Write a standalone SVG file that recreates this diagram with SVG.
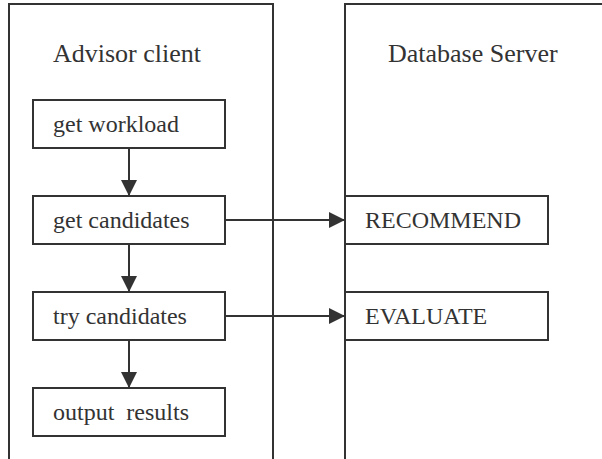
<svg xmlns="http://www.w3.org/2000/svg" width="602" height="459" viewBox="0 0 602 459">
<style>
.c{fill:none;stroke:#333;stroke-width:2}
.b{fill:#fff;stroke:#333;stroke-width:2}
.t{font-family:'Liberation Serif','DejaVu Serif',serif;font-size:24px;fill:#333;white-space:pre}
.h{font-family:'Liberation Serif','DejaVu Serif',serif;font-size:26px;fill:#333}
.l{fill:none;stroke:#333;stroke-width:2}
</style>
<defs>
<marker id="ah" markerUnits="userSpaceOnUse" markerWidth="16" markerHeight="16" refX="16" refY="8" orient="auto">
<path d="M0,0 L16,8 L0,16 Z" fill="#333"/>
</marker>
</defs>
<g id="advisor-client">
<path class="c" d="M9,470 V4 H273 V470"/>
<text class="h" x="53" y="62">Advisor client</text>
</g>
<g id="database-server">
<path class="c" d="M345,470 V4 H610"/>
<text class="h" x="388" y="62">Database Server</text>
</g>
<g id="get-workload">
<rect class="b" x="33" y="100" width="192" height="48"/>
<text class="t" x="53" y="132">get workload</text>
</g>
<g id="get-candidates">
<rect class="b" x="33" y="196" width="192" height="48"/>
<text class="t" x="53" y="228">get candidates</text>
</g>
<g id="try-candidates">
<rect class="b" x="33" y="292" width="192" height="48"/>
<text class="t" x="53" y="324">try candidates</text>
</g>
<g id="output-results">
<rect class="b" x="33" y="388" width="192" height="48"/>
<text class="t" x="53" y="420">output  results</text>
</g>
<g id="recommend">
<rect class="b" x="345" y="196" width="203" height="48"/>
<text class="t" x="365" y="228">RECOMMEND</text>
</g>
<g id="evaluate">
<rect class="b" x="345" y="292" width="203" height="48"/>
<text class="t" x="365" y="324">EVALUATE</text>
</g>
<g id="connectors">
<line class="l" x1="129" y1="148" x2="129" y2="196" marker-end="url(#ah)"/>
<line class="l" x1="129" y1="244" x2="129" y2="292" marker-end="url(#ah)"/>
<line class="l" x1="129" y1="340" x2="129" y2="388" marker-end="url(#ah)"/>
<line class="l" x1="225" y1="220" x2="345" y2="220" marker-end="url(#ah)"/>
<line class="l" x1="225" y1="316" x2="345" y2="316" marker-end="url(#ah)"/>
</g>
</svg>
